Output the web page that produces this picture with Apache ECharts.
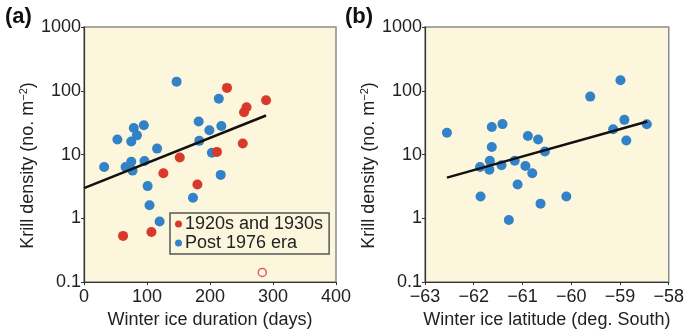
<!DOCTYPE html>
<html>
<head>
<meta charset="utf-8">
<script src="https://cdn.jsdelivr.net/npm/echarts@6/dist/echarts.min.js"></script>
<style>
html,body{margin:0;padding:0;background:#fff;}
#c{width:687px;height:334px;}
</style>
</head>
<body>
<div id="c"></div>
<script>
// Panel (a): winter ice duration (days) vs krill density
const blueA = [[32,6.4],[53,17.2],[79,26],[95,28.8],[84,20],[75,16],[66,6.4],[75,7.7],[77,5.6],[96,7.9],[116,12.4],[101,3.2],[104,1.6],[120,0.89],[147,139],[182,33],[183,16.4],[199,24],[203,10.7],[214,75],[218,28],[217,4.8],[173,2.1]];
const redA = [[227,111],[289,71],[258,55],[254,46],[252,14.9],[211,11],[152,9],[126,5.1],[180,3.4],[62,0.53],[107,0.61]];
const openRedA = [[283,0.142]];
const fitA = [[0,2.98],[289,41]];
// Panel (b): winter ice latitude vs krill density
const blueB = [[-62.55,22],[-61.63,27],[-61.41,30],[-61.63,13.1],[-61.67,8],[-61.87,6.4],[-61.68,5.8],[-61.43,6.8],[-61.16,8],[-60.89,19.5],[-60.68,17.2],[-60.54,11.2],[-60.94,6.6],[-60.80,5.1],[-61.10,3.4],[-61.86,2.2],[-61.28,0.94],[-60.63,1.7],[-60.10,2.2],[-59.61,81],[-58.99,146],[-59.14,25],[-58.91,35],[-58.87,16.6],[-58.45,29.8]];
const fitB = [[-62.55,4.35],[-58.44,33]];
const xTicksA = [0,100,200,300,400];
const xTicksB = [-63,-62,-61,-60,-59,-58];
const yTicks = [0.1,1,10,100,1000];

const FONT = 'Liberation Sans, Arial, Helvetica, sans-serif';
const RED = '#d8392b', BLUE = '#3282c8', BG = '#fcf6dc';

function yAxis(gi){
  return {
    type:'log', logBase:10, min:yTicks[0], max:yTicks[yTicks.length-1], gridIndex:gi,
    name:'{a|Krill density (no. m}{s|−2}{a|)}', nameLocation:'middle', nameGap:44, nameRotate:90,
    nameTextStyle:{padding:[0,22,0,0],rich:{a:{fontSize:18,fontFamily:FONT,color:'#222'},s:{fontSize:11,fontFamily:FONT,color:'#222',verticalAlign:'top',padding:[0,0,8,0]}}},
    axisLine:{show:true,lineStyle:{color:'#333',width:1.2}},
    axisTick:{show:true,length:3,lineStyle:{color:'#333'}},
    axisLabel:{fontSize:18,fontFamily:FONT,color:'#222',margin:3,formatter:v=>String(Math.round(v*10)/10)},
    splitLine:{show:false}, minorTick:{show:false}
  };
}
function xAxis(gi, ticks, title){
  return {
    type:'value', gridIndex:gi, min:ticks[0], max:ticks[ticks.length-1], interval:ticks[1]-ticks[0],
    name:title, nameLocation:'middle', nameGap:26,
    nameTextStyle:{fontSize:18,fontFamily:FONT,color:'#222',verticalAlign:'top'},
    axisLine:{show:true,onZero:false,lineStyle:{color:'#333',width:1.2}},
    axisTick:{show:true,length:3,lineStyle:{color:'#333'}},
    axisLabel:{fontSize:18,fontFamily:FONT,color:'#222',margin:6,showMinLabel:true,showMaxLabel:true,
      formatter:v=>(v<0?'−'+Math.abs(v):String(v))},
    splitLine:{show:false}
  };
}

const chart = echarts.init(document.getElementById('c'), null, {renderer:'canvas'});
chart.setOption({
  animation:false,
  backgroundColor:'#fff',
  textStyle:{fontFamily:FONT},
  graphic:[
    {type:'text', left:5, top:6, style:{text:'(a)', fontSize:22, fontWeight:'bold', fontFamily:FONT, fill:'#111'}},
    {type:'text', left:345, top:6, style:{text:'(b)', fontSize:22, fontWeight:'bold', fontFamily:FONT, fill:'#111'}}
  ],
  grid:[
    {left:84, top:27, width:252, height:261, show:true, backgroundColor:BG, borderColor:'#8c8c8c', borderWidth:1.5},
    {left:425, top:27, width:248, height:261, show:true, backgroundColor:BG, borderColor:'#8c8c8c', borderWidth:1.5}
  ],
  xAxis:[xAxis(0,xTicksA,'Winter ice duration (days)'), xAxis(1,xTicksB,'Winter ice latitude (deg. South)')],
  yAxis:[yAxis(0), yAxis(1)],
  legend:{
    data:['1920s and 1930s','Post 1976 era'],
    orient:'vertical', left:170, top:213, itemWidth:7, itemHeight:7, itemGap:1,
    padding:[2,6,2,5], borderColor:'#555', borderWidth:1.5, backgroundColor:'transparent',
    icon:'circle', textStyle:{fontSize:18,fontFamily:FONT,color:'#222',padding:[0,0,0,-2]}
  },
  series:[
    {name:'Post 1976 era', type:'scatter', xAxisIndex:0, yAxisIndex:0, data:blueA, symbolSize:10, itemStyle:{color:BLUE,opacity:1}},
    {name:'1920s and 1930s', type:'scatter', xAxisIndex:0, yAxisIndex:0, data:redA, symbolSize:10, itemStyle:{color:RED,opacity:1}},
    {name:'open', type:'scatter', xAxisIndex:0, yAxisIndex:0, data:openRedA, symbolSize:8, itemStyle:{color:'#fff',borderColor:RED,borderWidth:1.5}},
    {name:'fitA', type:'line', xAxisIndex:0, yAxisIndex:0, data:fitA, symbol:'none', lineStyle:{color:'#111',width:2.5}, z:5},
    {name:'Post 1976 era', type:'scatter', xAxisIndex:1, yAxisIndex:1, data:blueB, symbolSize:10, itemStyle:{color:BLUE,opacity:1}},
    {name:'fitB', type:'line', xAxisIndex:1, yAxisIndex:1, data:fitB, symbol:'none', lineStyle:{color:'#111',width:2.5}, z:5}
  ]
});
</script>
</body>
</html>
